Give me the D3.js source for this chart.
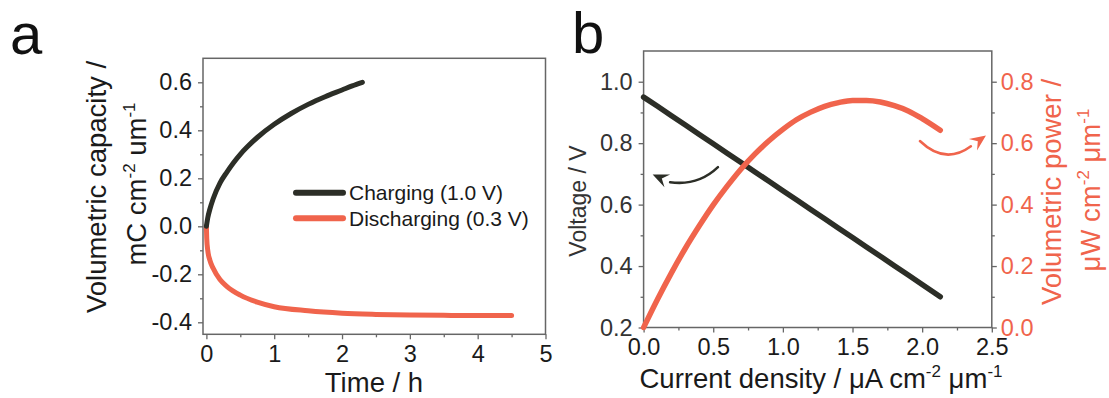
<!DOCTYPE html>
<html>
<head>
<meta charset="utf-8">
<script src="https://cdn.jsdelivr.net/npm/d3@7"></script>
<style>
body { margin: 0; background: #fff; }
svg text { font-family: "Liberation Sans", Arial, sans-serif; }
</style>
</head>
<body>
<svg id="fig" width="1109" height="398"></svg>
<script>
// ---- panel a: charge / discharge ----
var chargeTime = [0, 0.02, 0.05, 0.1, 0.2, 0.3, 0.4, 0.5, 0.6, 0.75, 1.0, 1.25, 1.5, 1.75, 2.0, 2.15, 2.3];
var chargeCap = [0, 0.035, 0.07, 0.115, 0.18, 0.225, 0.265, 0.3, 0.33, 0.37, 0.425, 0.47, 0.508, 0.54, 0.568, 0.585, 0.6];
var dischargeTime = [0, 0.005, 0.02, 0.05, 0.1, 0.2, 0.3, 0.5, 0.75, 1.0, 1.5, 2.0, 2.5, 3.0, 3.5, 4.0, 4.5];
var dischargeCap = [0, -0.05, -0.1, -0.14, -0.175, -0.222, -0.25, -0.287, -0.316, -0.335, -0.352, -0.362, -0.367, -0.37, -0.371, -0.372, -0.372];
var aXTicks = [0, 1, 2, 3, 4, 5];
var aYTicks = [-0.4, -0.2, 0.0, 0.2, 0.4, 0.6];
var legendLabels = ["Charging (1.0 V)", "Discharging (0.3 V)"];

// ---- panel b: polarization / power ----
var currentDensity = [0, 0.1, 0.2, 0.3, 0.4, 0.5, 0.6, 0.7, 0.8, 0.9, 1.0, 1.1, 1.2, 1.3, 1.4, 1.5, 1.6, 1.7, 1.8, 1.9, 2.0, 2.13];
var voltage = [0.95, 0.92, 0.889, 0.859, 0.828, 0.798, 0.767, 0.737, 0.706, 0.676, 0.645, 0.615, 0.584, 0.554, 0.523, 0.493, 0.462, 0.432, 0.401, 0.371, 0.34, 0.30];
var power = [0, 0.092, 0.178, 0.258, 0.331, 0.399, 0.46, 0.516, 0.565, 0.608, 0.645, 0.677, 0.701, 0.72, 0.732, 0.739, 0.739, 0.734, 0.722, 0.705, 0.68, 0.642];
var bXTicks = [0, 0.5, 1.0, 1.5, 2.0, 2.5];
var bYLeftTicks = [0.2, 0.4, 0.6, 0.8, 1.0];
var bYRightTicks = [0.0, 0.2, 0.4, 0.6, 0.8];
// annotation arrows: start, control, end, tip (data units)
var voltArrow = [[0.534, 0.722], [0.39, 0.66], [0.19, 0.673], [0.065, 0.698]];
var powerArrow = [[1.984, 0.607], [2.164, 0.528], [2.35, 0.59], [2.458, 0.625]];

var BLACK = "#2c2e27", RED = "#f0644c", AXIS = "#666", TEXT = "#1a1a1a";
var TICK_FS = "23.5px", TITLE_FS = "27.5px", SUP_FS = "17px";

var svg = d3.select("#fig");

function zip(xs, ys) { return xs.map(function(x, i) { return [x, ys[i]]; }); }

function minorBetween(ticks, step) {
	var out = [];
	for (var i = 0; i < ticks.length - 1; i++) out.push(+(ticks[i] + step).toFixed(3));
	return out;
}

// plain hyphen instead of d3's unicode minus
function fmt(spec) {
	var f = d3.format(spec);
	return function(d) { return f(d).replace("\u2212", "-"); };
}

function addAxis(g, axisFn, scale, ticks, minor, tf, transform, color, pad) {
	var ax = g.append("g").attr("transform", transform)
		.call(axisFn(scale).tickValues(ticks).tickFormat(tf).tickSize(5).tickSizeOuter(0).tickPadding(pad));
	ax.select(".domain").remove();
	ax.selectAll("line").attr("stroke", AXIS).attr("stroke-width", 1.3);
	ax.selectAll("text").attr("fill", color).style("font-size", TICK_FS);
	var mi = g.append("g").attr("transform", transform)
		.call(axisFn(scale).tickValues(minor).tickFormat("").tickSize(3).tickSizeOuter(0));
	mi.select(".domain").remove();
	mi.selectAll("line").attr("stroke", AXIS).attr("stroke-width", 1.3);
}

function frame(g, x0, x1, y0, y1) {
	g.append("rect").attr("x", x0).attr("y", y0).attr("width", x1 - x0).attr("height", y1 - y0)
		.attr("fill", "none").attr("stroke", AXIS).attr("stroke-width", 1.5);
}

function supText(t, parts) {
	// parts: [text, sup, text, sup]
	t.append("tspan").text(parts[0]);
	t.append("tspan").attr("dy", -11).style("font-size", SUP_FS).text(parts[1]);
	t.append("tspan").attr("dy", 11).text(parts[2]);
	t.append("tspan").attr("dy", -11).style("font-size", SUP_FS).text(parts[3]);
}

function arrow(g, pts, sx, sy, color, w) {
	var p = pts.map(function(d) { return [sx(d[0]), sy(d[1])]; });
	g.append("path")
		.attr("d", "M" + p[0] + "Q" + p[1] + " " + p[2])
		.attr("fill", "none").attr("stroke", color).attr("stroke-width", w).attr("stroke-linecap", "round");
	var tip = p[3], end = p[2];
	var dx = tip[0] - end[0], dy = tip[1] - end[1], L = Math.sqrt(dx * dx + dy * dy);
	dx /= L; dy /= L;
	var bx = tip[0] - 16 * dx, by = tip[1] - 16 * dy;
	var nx = -dy, ny = dx;
	g.append("path")
		.attr("d", "M" + tip + "L" + [bx + 7 * nx, by + 7 * ny] + "L" + [tip[0] - 10 * dx, tip[1] - 10 * dy] +
			"L" + [bx - 7 * nx, by - 7 * ny] + "Z")
		.attr("fill", color);
}

// ================= panel a =================
(function() {
	var L = 203, R = 545.5, T = 58.3, B = 334.3;
	var x = d3.scaleLinear().domain([-0.05, 5]).range([L, R]);
	var y = d3.scaleLinear().domain([-0.45, 0.7]).range([B, T]);
	var g = svg.append("g");

	addAxis(g, d3.axisBottom, x, aXTicks, minorBetween(aXTicks, 0.5), fmt("d"), "translate(0," + B + ")", TEXT, 6);
	addAxis(g, d3.axisLeft, y, aYTicks, [-0.3, -0.1, 0.1, 0.3, 0.5], fmt(".1f"), "translate(" + L + ",0)", TEXT, 6);
	frame(g, L, R, T, B);

	var line = d3.line().x(function(d) { return x(d[0]); }).y(function(d) { return y(d[1]); }).curve(d3.curveMonotoneX);
	g.append("path").datum(zip(dischargeTime, dischargeCap)).attr("d", line)
		.attr("fill", "none").attr("stroke", RED).attr("stroke-width", 5).attr("stroke-linecap", "round");
	g.append("path").datum(zip(chargeTime, chargeCap)).attr("d", line)
		.attr("fill", "none").attr("stroke", BLACK).attr("stroke-width", 5).attr("stroke-linecap", "round");

	// legend
	var legCol = [BLACK, RED];
	legendLabels.forEach(function(lab, i) {
		var ly = 192.7 + i * 25.6;
		g.append("line").attr("x1", 296).attr("x2", 343).attr("y1", ly).attr("y2", ly)
			.attr("stroke", legCol[i]).attr("stroke-width", 6).attr("stroke-linecap", "round");
		g.append("text").attr("x", 349).attr("y", ly).attr("dy", "0.35em")
			.attr("fill", TEXT).style("font-size", "21px").text(lab);
	});

	// titles
	g.append("text").attr("x", 374).attr("y", 392).attr("text-anchor", "middle")
		.attr("fill", TEXT).style("font-size", TITLE_FS).text("Time / h");
	g.append("text").attr("transform", "translate(106,187) rotate(-90)").attr("text-anchor", "middle")
		.attr("fill", TEXT).style("font-size", TITLE_FS).text("Volumetric capacity /");
	var t2 = g.append("text").attr("transform", "translate(146,184) rotate(-90)").attr("text-anchor", "middle")
		.attr("fill", TEXT).style("font-size", TITLE_FS);
	supText(t2, ["mC cm", "-2", " um", "-1"]);

	svg.append("text").attr("x", 10).attr("y", 54).attr("fill", "#111").style("font-size", "58px").text("a");
})();

// ================= panel b =================
(function() {
	var L = 643.6, R = 991.8, T = 51, B = 327.5;
	var x = d3.scaleLinear().domain([0, 2.5]).range([L, R]);
	var yL = d3.scaleLinear().domain([0.2, 1.1]).range([B, T]);
	var yR = d3.scaleLinear().domain([0, 0.9]).range([B, T]);
	var g = svg.append("g");

	addAxis(g, d3.axisBottom, x, bXTicks, minorBetween(bXTicks, 0.25), fmt(".1f"), "translate(0," + B + ")", TEXT, 6);
	addAxis(g, d3.axisLeft, yL, bYLeftTicks, [0.3, 0.5, 0.7, 0.9], fmt(".1f"), "translate(" + L + ",0)", "#333", 6);
	addAxis(g, d3.axisRight, yR, bYRightTicks, [0.1, 0.3, 0.5, 0.7], fmt(".1f"), "translate(" + R + ",0)", RED, 4);
	frame(g, L, R, T, B);

	var lineV = d3.line().x(function(d) { return x(d[0]); }).y(function(d) { return yL(d[1]); });
	var lineP = d3.line().x(function(d) { return x(d[0]); }).y(function(d) { return yR(d[1]); }).curve(d3.curveMonotoneX);
	g.append("path").datum(zip(currentDensity, voltage)).attr("d", lineV)
		.attr("fill", "none").attr("stroke", BLACK).attr("stroke-width", 5.5).attr("stroke-linecap", "round");
	g.append("path").datum(zip(currentDensity, power)).attr("d", lineP)
		.attr("fill", "none").attr("stroke", RED).attr("stroke-width", 5.5).attr("stroke-linecap", "round");

	arrow(g, voltArrow, x, yL, BLACK, 2.5);
	arrow(g, powerArrow, x, yR, RED, 2.5);

	// titles
	var xt = g.append("text").attr("x", 821).attr("y", 388).attr("text-anchor", "middle")
		.attr("fill", TEXT).style("font-size", TITLE_FS);
	supText(xt, ["Current density / \u03bcA cm", "-2", " \u03bcm", "-1"]);

	g.append("text").attr("transform", "translate(586,201) rotate(-90)").attr("text-anchor", "middle")
		.attr("fill", "#333").style("font-size", "23px").text("Voltage / V");
	g.append("text").attr("transform", "translate(1061,192) rotate(-90)").attr("text-anchor", "middle")
		.attr("fill", RED).style("font-size", TITLE_FS).text("Volumetric power /");
	var rt = g.append("text").attr("transform", "translate(1100,190) rotate(-90)").attr("text-anchor", "middle")
		.attr("fill", RED).style("font-size", TITLE_FS);
	supText(rt, ["\u03bcW cm", "-2", " \u03bcm", "-1"]);

	svg.append("text").attr("x", 572).attr("y", 53).attr("fill", "#111").style("font-size", "58px").text("b");
})();
</script>
</body>
</html>
